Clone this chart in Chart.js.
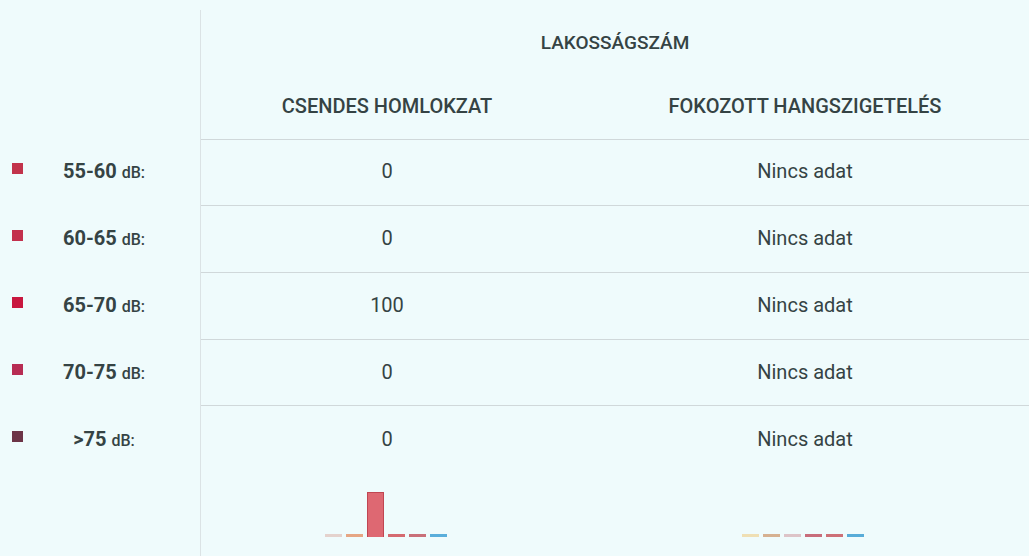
<!DOCTYPE html>
<html>
<head>
<meta charset="utf-8">
<script src="https://cdn.jsdelivr.net/npm/chart.js@4.4.0/dist/chart.umd.min.js"></script>
<style>
  html, body { margin: 0; padding: 0; }
  body {
    width: 1029px; height: 556px; overflow: hidden; position: relative;
    background: #effbfc; font-family: Roboto, "Noto Sans", sans-serif; color: #354344;
  }
  .abs { position: absolute; white-space: nowrap; }
  .c { transform: translate(-50%, -50%); }
  .vline { position: absolute; left: 200px; top: 10px; bottom: 0; width: 1px; background: #dbe3e5; }
  .hline { position: absolute; left: 201px; right: 0; height: 1px; background: #d0d8da; }
  .title { font-size: 19px; font-weight: 500; }
  .head { font-size: 20px; font-weight: 500; }
  .val { font-size: 20px; }
  .lab { font-size: 20px; font-weight: 700; }
  .lab span { font-size: 16px; font-weight: 500; }
  .sq { position: absolute; left: 12px; width: 11px; height: 11px; }
  canvas { position: absolute; }
</style>
</head>
<body>
<div class="vline"></div>
<div id="table"></div>
<canvas id="bars1" width="126" height="48" style="left:323px;top:490px"></canvas>
<canvas id="bars2" width="126" height="48" style="left:740px;top:490px"></canvas>
<script>
// table data
let title = 'LAKOSSÁGSZÁM';
let columns = ['CSENDES HOMLOKZAT', 'FOKOZOTT HANGSZIGETELÉS'];
let rowLabels = ['55-60', '60-65', '65-70', '70-75', '>75'];
let csendes = [0, 0, 100, 0, 0];
let fokozott = [null, null, null, null, null];   // no data
let noData = 'Nincs adat';

// mini bar charts under the columns
let barLabels = ['1', '2', '3', '4', '5', '6'];
let csendesBars = [0, 0, 100, 0, 0, 0];
let fokozottBars = [0, 0, 0, 0, 0, 0];

let legendColors = ['#c2334b', '#c3304d', '#c8173f', '#b72c53', '#6c3447'];
let barColors1 = ['#e4d2cd', '#e6a684', '#de6872', '#d56a70', '#c97079', '#5aaedb'];
let barBorders1 = ['#e4d2cd', '#e6a684', '#c04652', '#d56a70', '#c97079', '#5aaedb'];
let barColors2 = ['#efdfb4', '#d6b191', '#ddc4c8', '#c86d7b', '#cd7077', '#58acd8'];

const colX = [387, 805];
const rowY = [171, 238, 305, 372, 439];
const lineY = [139, 205, 272, 339, 405];

let t = document.getElementById('table');
function add(html, cls, x, y) {
    let d = document.createElement('div');
    d.className = 'abs c ' + cls;
    d.style.left = x + 'px';
    d.style.top = y + 'px';
    d.innerHTML = html;
    t.appendChild(d);
}
lineY.forEach(y => {
    let l = document.createElement('div');
    l.className = 'hline';
    l.style.top = y + 'px';
    t.appendChild(l);
});
add(title, 'title', 615, 42);
columns.forEach((c, i) => add(c, 'head', colX[i], 106));
rowLabels.forEach((r, i) => {
    let s = document.createElement('div');
    s.className = 'sq';
    s.style.top = (rowY[i] - 8) + 'px';
    s.style.background = legendColors[i];
    t.appendChild(s);
    add(r + ' <span>dB:</span>', 'lab', 104, rowY[i]);
    add(csendes[i] === null ? noData : csendes[i], 'val', colX[0], rowY[i]);
    add(fokozott[i] === null ? noData : fokozott[i], 'val', colX[1], rowY[i]);
});

function miniBars(id, values, colors, borders) {
    return new Chart(document.getElementById(id), {
        type: 'bar',
        data: {
            labels: barLabels,
            datasets: [{
                data: values,
                backgroundColor: colors,
                borderColor: borders,
                borderWidth: 1,
                minBarLength: 3,
                categoryPercentage: 1,
                barPercentage: 0.81,
                clip: false
            }]
        },
        options: {
            responsive: false,
            animation: false,
            layout: { padding: { top: 2, bottom: 1 } },
            plugins: { legend: { display: false }, tooltip: { enabled: false } },
            scales: {
                x: { display: false },
                y: { display: false, min: 0, max: 100 }
            }
        }
    });
}
miniBars('bars1', csendesBars, barColors1, barBorders1);
miniBars('bars2', fokozottBars, barColors2, barColors2);
</script>
</body>
</html>
